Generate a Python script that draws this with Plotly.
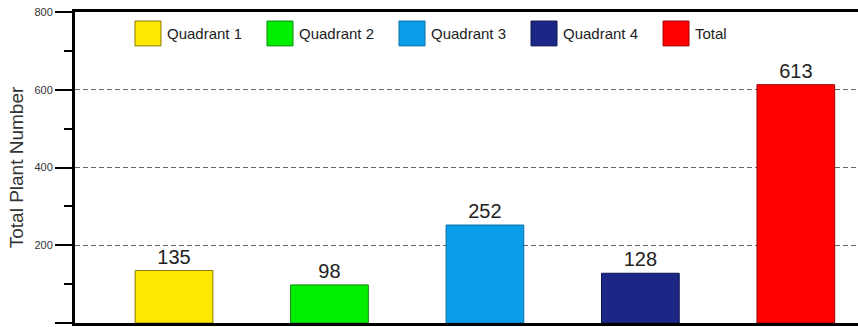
import plotly.graph_objects as go

categories = ["Quadrant 1", "Quadrant 2", "Quadrant 3", "Quadrant 4", "Total"]
values = [135, 98, 252, 128, 613]
colors = ["#FFE800", "#00EE00", "#0C9DE8", "#1B2686", "#FF0000"]
outline = ["#8a7a00", "#108a10", "#0a6fa5", "#10184f", "#a00000"]
y_ticks = [0, 200, 400, 600, 800]

fig = go.Figure()
fig.add_trace(go.Bar(
    x=categories, y=values, width=0.5,
    marker=dict(color=colors, line=dict(color=outline, width=1)),
    text=[str(v) for v in values], textposition="outside",
    textfont=dict(family="Arial, Liberation Sans", size=20, color="#222"),
    cliponaxis=False, showlegend=False,
))

# legend built as layout shapes / annotations
x0, step, sq = 0.0766, 0.1686, 0.0332
for i, (name, c, oc) in enumerate(zip(categories, colors, outline)):
    xs = x0 + i * step
    fig.add_shape(type="rect", xref="paper", yref="paper",
                  x0=xs, x1=xs + sq, y0=0.891, y1=0.971,
                  fillcolor=c, line=dict(color=oc, width=1))
    fig.add_annotation(xref="paper", yref="paper", x=xs + sq + 0.005, y=0.931,
                       text=name, showarrow=False, xanchor="left", yanchor="middle",
                       font=dict(family="Arial, Liberation Sans", size=15, color="#222"))

fig.update_layout(
    width=858, height=327,
    margin=dict(l=75, r=0, t=12, b=4),
    plot_bgcolor="white", paper_bgcolor="white",
    bargap=0.5,
    xaxis=dict(range=[-0.637, 4.40], showticklabels=False, ticks="",
               showline=True, linecolor="black", linewidth=3, mirror=True,
               showgrid=False, zeroline=False),
    yaxis=dict(range=[0, 800], tickvals=y_ticks, ticks="outside", ticklen=17,
               tickwidth=2, tickcolor="black",
               tickfont=dict(family="Arial, Liberation Sans", size=11, color="#333"),
               showline=True, linecolor="black", linewidth=3,
               showgrid=True, gridcolor="#666", griddash="5px,3px", gridwidth=1.2,
               zeroline=False,
               minor=dict(dtick=100, tick0=0, ticks="outside", ticklen=8,
                          tickwidth=2, tickcolor="black", showgrid=False),
               title=dict(text="Total Plant Number", standoff=6,
                          font=dict(family="Arial, Liberation Sans", size=19, color="#333"))),
)

fig.write_html("out.html")
